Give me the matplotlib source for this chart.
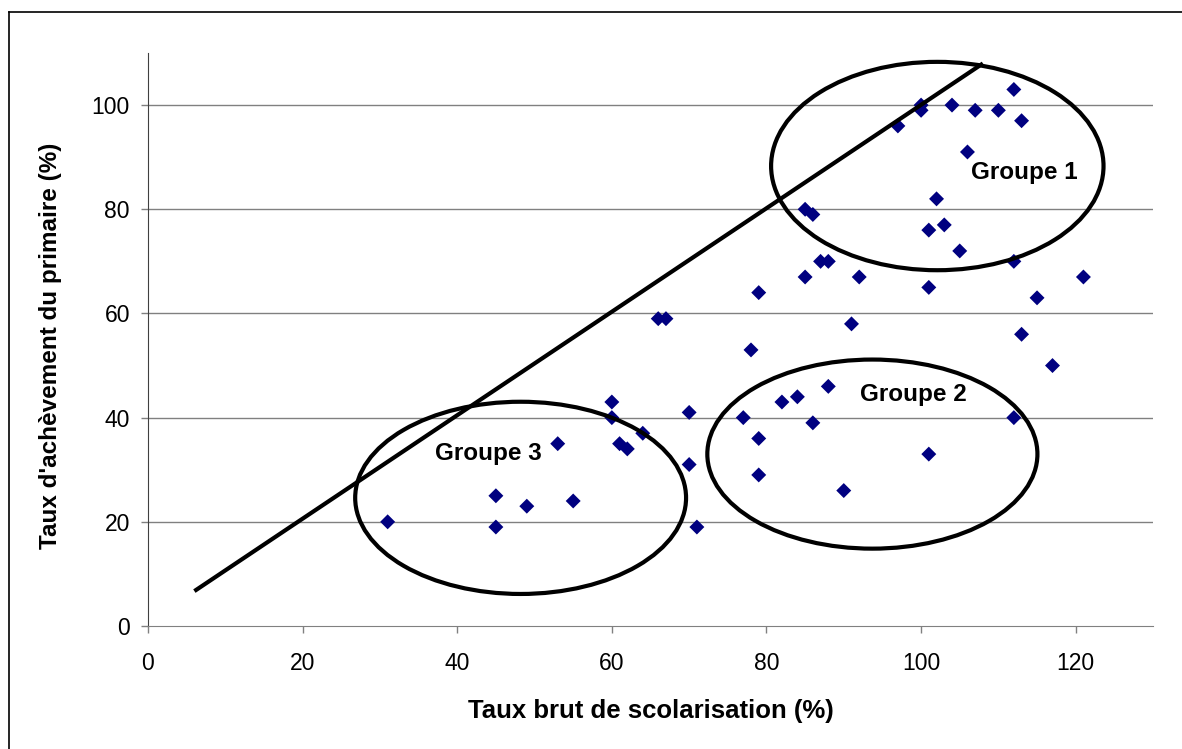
import matplotlib
matplotlib.use("Agg")
import matplotlib.pyplot as plt
from matplotlib.patches import Ellipse
from matplotlib.lines import Line2D

plt.rcParams['font.family'] = ['Liberation Sans', 'DejaVu Sans']

# Data
tbs = [31, 45, 45, 49, 53, 55, 60, 60, 61, 62, 64, 66, 67, 70, 70, 71, 77, 78,
       79, 79, 79, 82, 84, 85, 85, 86, 86, 87, 88, 88, 90, 91, 92, 97, 100, 100,
       101, 101, 101, 102, 103, 104, 105, 106, 107, 110, 112, 112, 112, 113, 113,
       115, 117, 121]
tap = [20, 25, 19, 23, 35, 24, 43, 40, 35, 34, 37, 59, 59, 41, 31, 19, 40, 53,
       64, 36, 29, 43, 44, 80, 67, 79, 39, 70, 70, 46, 26, 58, 67, 96, 100, 99,
       76, 65, 33, 82, 77, 100, 72, 91, 99, 99, 103, 70, 40, 97, 56,
       63, 50, 67]

line_x = [6, 108]
line_y = [6.7, 108]

group_names = ["Groupe 1", "Groupe 2", "Groupe 3"]
group_centers = [(102.1, 88.3), (93.7, 33.0), (48.2, 24.6)]
group_sizes = [(43.0, 40.0), (42.7, 36.3), (42.8, 36.9)]
label_pos = [(113.3, 87.0), (99.0, 44.5), (44.0, 33.2)]

xticks = [0, 20, 40, 60, 80, 100, 120]
yticks = [0, 20, 40, 60, 80, 100]

W, H = 1182, 749
fig = plt.figure(figsize=(W / 100, H / 100), dpi=100)
ax = fig.add_axes([148 / W, 1 - 626 / H, (1153 - 148) / W, (626 - 53) / H])

ax.set_xlim(0, 130)
ax.set_ylim(0, 110)
for yv in yticks[1:]:
    ax.axhline(yv, color='#808080', lw=1.0, zorder=1)

ax.scatter(tbs, tap, marker='D', s=58, color='#000080', edgecolors='none', zorder=3)
ax.plot(line_x, line_y, color='black', lw=3, zorder=4, solid_capstyle='butt')

for name, c, sz, lp in zip(group_names, group_centers, group_sizes, label_pos):
    ax.add_patch(Ellipse(c, sz[0], sz[1], fill=False, edgecolor='black', lw=3, zorder=5))
    ax.text(lp[0], lp[1], name, fontsize=17.5, fontweight='bold', ha='center', va='center', zorder=6)

ax.set_xticks(xticks)
ax.set_yticks(yticks)
ax.tick_params(axis='both', labelsize=16.5, color='#808080', length=5, width=1, direction='out')
ax.tick_params(axis='x', pad=14)
ax.tick_params(axis='y', pad=8)
for s in ['top', 'right']:
    ax.spines[s].set_visible(False)
ax.spines['left'].set_color('#404040')
ax.spines['bottom'].set_color('#808080')

fig.text(651 / W, 1 - 711 / H, "Taux brut de scolarisation (%)", fontsize=18.5,
         fontweight='bold', ha='center', va='center')
fig.text(51 / W, 1 - 346 / H, "Taux d'achèvement du primaire (%)", fontsize=17.5,
         fontweight='bold', ha='center', va='center', rotation=90)

# figure border
fig.add_artist(Line2D([9 / W, 9 / W], [0, 1 - 12 / H], transform=fig.transFigure, color='black', lw=1.2))
fig.add_artist(Line2D([9 / W, 1], [1 - 12 / H, 1 - 12 / H], transform=fig.transFigure, color='black', lw=1.2))

fig.savefig("out.png", dpi=100)
